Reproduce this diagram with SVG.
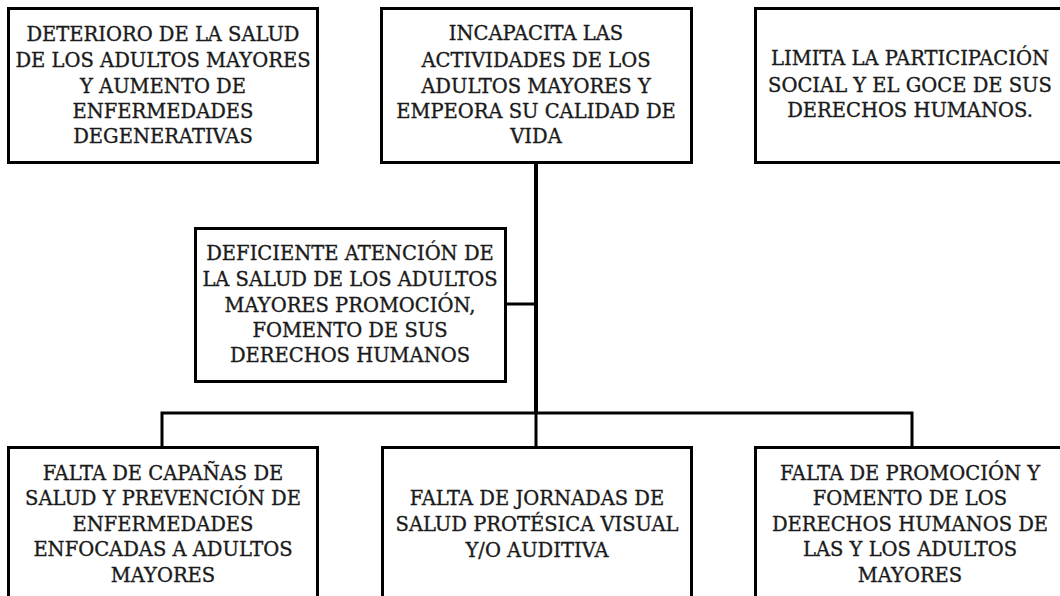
<svg xmlns="http://www.w3.org/2000/svg" width="1060" height="596" viewBox="0 0 1060 596">
<style>
.box{fill:#fff;stroke:#000;stroke-width:3}
.t{font-family:"DejaVu Serif","Liberation Serif",serif;font-size:19.5px;fill:#1a1a1a;stroke:#1a1a1a;stroke-width:0.35;text-anchor:middle}
.c{fill:none;stroke:#000;stroke-width:3}
</style>
<rect width="1060" height="596" fill="#fff"/>
<g id="connectors">
<path class="c" d="M536 163 V413" style="stroke-width:4"/>
<path class="c" d="M506 304 H536"/>
<path class="c" d="M162 447 V413 H912 V447"/>
<path class="c" d="M536 413 V447"/>
</g>
<g id="n1"><rect class="box" x="8.5" y="8.5" width="309" height="154"/>
<text class="t"><tspan x="163" y="41">DETERIORO DE LA SALUD</tspan><tspan x="163" y="67">DE LOS ADULTOS MAYORES</tspan><tspan x="163" y="93">Y AUMENTO DE</tspan><tspan x="163" y="118">ENFERMEDADES</tspan><tspan x="163" y="143">DEGENERATIVAS</tspan></text></g>
<g id="n2"><rect class="box" x="381.5" y="8.5" width="310" height="154"/>
<text class="t"><tspan x="536" y="40">INCAPACITA LAS</tspan><tspan x="536" y="67">ACTIVIDADES DE LOS</tspan><tspan x="536" y="93">ADULTOS MAYORES Y</tspan><tspan x="536" y="118">EMPEORA SU CALIDAD DE</tspan><tspan x="536" y="143">VIDA</tspan></text></g>
<g id="n3"><rect class="box" x="755.5" y="8.5" width="310" height="154"/>
<text class="t"><tspan x="910" y="65">LIMITA LA PARTICIPACIÓN</tspan><tspan x="910" y="92">SOCIAL Y EL GOCE DE SUS</tspan><tspan x="910" y="117">DERECHOS HUMANOS.</tspan></text></g>
<g id="n4"><rect class="box" x="195.5" y="228.5" width="310" height="153"/>
<text class="t"><tspan x="350" y="260">DEFICIENTE ATENCIÓN DE</tspan><tspan x="350" y="286">LA SALUD DE LOS ADULTOS</tspan><tspan x="350" y="312">MAYORES PROMOCIÓN,</tspan><tspan x="350" y="337">FOMENTO DE SUS</tspan><tspan x="350" y="362">DERECHOS HUMANOS</tspan></text></g>
<g id="n5"><rect class="box" x="8.5" y="447.5" width="309" height="160"/>
<text class="t"><tspan x="163" y="480">FALTA DE CAPAÑAS DE</tspan><tspan x="163" y="505">SALUD Y PREVENCIÓN DE</tspan><tspan x="163" y="531">ENFERMEDADES</tspan><tspan x="163" y="556">ENFOCADAS A ADULTOS</tspan><tspan x="163" y="582">MAYORES</tspan></text></g>
<g id="n6"><rect class="box" x="382.5" y="447.5" width="309" height="160"/>
<text class="t"><tspan x="537" y="505">FALTA DE JORNADAS DE</tspan><tspan x="537" y="531">SALUD PROTÉSICA VISUAL</tspan><tspan x="537" y="557">Y/O AUDITIVA</tspan></text></g>
<g id="n7"><rect class="box" x="755.5" y="447.5" width="310" height="160"/>
<text class="t"><tspan x="910" y="480">FALTA DE PROMOCIÓN Y</tspan><tspan x="910" y="505">FOMENTO DE LOS</tspan><tspan x="910" y="531">DERECHOS HUMANOS DE</tspan><tspan x="910" y="556">LAS Y LOS ADULTOS</tspan><tspan x="910" y="582">MAYORES</tspan></text></g>
</svg>
